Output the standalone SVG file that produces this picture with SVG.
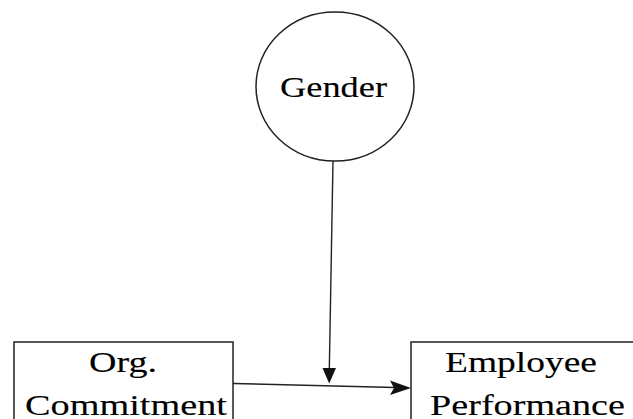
<svg xmlns="http://www.w3.org/2000/svg" width="633" height="419" viewBox="0 0 633 419">
<style>
.shape{fill:#fff;stroke:#222;stroke-width:1.5}
.lbl{font-family:"Liberation Serif","Times New Roman",serif;font-size:28.5px;fill:#000;stroke:#000;stroke-width:0.12;text-anchor:middle}
.edge{stroke:#222;stroke-width:1.4;fill:none}
.head{fill:#111;stroke:none}
</style>
<rect width="633" height="419" fill="#fff"/>
<g id="gender">
<ellipse class="shape" cx="335" cy="86.5" rx="79" ry="74.5"/>
<text class="lbl" x="333.5" y="97" textLength="107" lengthAdjust="spacingAndGlyphs">Gender</text>
</g>
<g id="org-commitment">
<rect class="shape" x="14" y="342" width="219" height="90"/>
<text class="lbl" x="123" y="372" textLength="68" lengthAdjust="spacingAndGlyphs">Org.</text>
<text class="lbl" x="126" y="415" textLength="202" lengthAdjust="spacingAndGlyphs">Commitment</text>
</g>
<g id="employee-performance">
<rect class="shape" x="411" y="342" width="240" height="90"/>
<text class="lbl" x="521" y="372" textLength="152" lengthAdjust="spacingAndGlyphs">Employee</text>
<text class="lbl" x="527.5" y="415" textLength="195" lengthAdjust="spacingAndGlyphs">Performance</text>
</g>
<g id="connectors">
<line class="edge" x1="333" y1="161" x2="329.3" y2="370"/>
<polygon class="head" points="322.5,368 336,368 329.2,383.5"/>
<line class="edge" x1="233" y1="383.5" x2="395" y2="387.5"/>
<polygon class="head" points="390,380.5 411,388 390,395 394,388"/>
</g>
</svg>
